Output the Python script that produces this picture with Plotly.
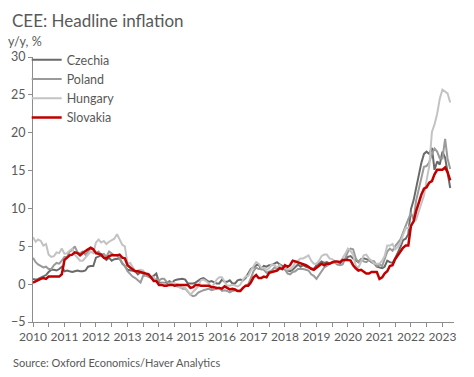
import pandas as pd
import plotly.graph_objects as go

dates = pd.date_range("2010-01-01", periods=160, freq="MS")

czechia = [
    0.7, 0.6, 0.7, 0.9, 1.0, 1.2, 1.6, 1.9, 1.9, 1.8, 2.0, 2.3,
    1.7, 1.8, 1.7, 1.6, 1.7, 1.8, 1.7, 1.7, 1.8, 2.3, 2.4, 2.4,
    3.5, 3.7, 3.8, 3.5, 3.2, 3.5, 3.1, 3.3, 3.4, 3.4, 2.7, 2.4,
    1.9, 1.8, 1.7, 1.7, 1.3, 1.6, 1.4, 1.3, 1.0, 0.9, 1.1, 1.4,
    0.2, 0.2, 0.2, 0.1, 0.4, 0.2, 0.5, 0.6, 0.7, 0.7, 0.6, 0.1,
    0.1, 0.1, 0.2, 0.5, 0.7, 0.8, 0.5, 0.3, 0.4, 0.2, 0.1, 0.1,
    0.6, 0.3, 0.3, 0.5, 0.1, 0.1, 0.5, 0.6, 0.5, 0.8, 1.5, 2.0,
    2.2, 2.5, 2.6, 2.0, 2.4, 2.3, 2.5, 2.5, 2.7, 2.9, 2.6, 2.4,
    2.2, 1.8, 1.7, 1.9, 2.2, 2.6, 2.3, 2.5, 2.3, 2.2, 2.0, 2.0,
    2.5, 2.7, 3.0, 2.8, 2.9, 2.7, 2.9, 2.9, 2.6, 2.7, 3.1, 3.2,
    3.6, 3.7, 3.4, 3.2, 2.9, 3.3, 3.4, 3.3, 3.2, 2.9, 2.7, 2.3,
    2.2, 2.1, 2.3, 3.1, 2.9, 2.8, 3.4, 4.1, 4.9, 5.8, 6.0, 6.6,
    9.9, 11.1, 12.7, 14.2, 16.0, 17.2, 17.5, 17.2, 18.0, 15.1, 16.2, 15.8,
    17.5, 16.7, 15.0, 12.7,
]

poland = [
    3.5, 2.9, 2.6, 2.4, 2.2, 2.3, 2.0, 2.0, 2.5, 2.8, 2.7, 3.1,
    3.6, 3.6, 4.3, 4.5, 5.0, 4.2, 4.1, 4.3, 3.9, 4.3, 4.8, 4.6,
    4.1, 4.3, 3.9, 4.0, 3.6, 4.3, 4.0, 3.8, 3.8, 3.4, 2.8, 2.4,
    1.7, 1.3, 1.0, 0.8, 0.5, 0.2, 1.1, 1.1, 1.0, 0.8, 0.6, 0.7,
    0.5, 0.7, 0.7, 0.3, 0.2, 0.3, -0.2, -0.3, -0.3, -0.6, -0.6, -1.0,
    -1.4, -1.6, -1.5, -1.1, -0.9, -0.8, -0.7, -0.6, -0.8, -0.7, -0.6, -0.5,
    -0.9, -0.8, -0.9, -1.1, -0.9, -0.8, -0.9, -0.8, -0.5, -0.2, 0.0, 0.8,
    1.7, 2.2, 2.0, 2.0, 1.9, 1.5, 1.7, 1.8, 2.2, 2.1, 2.5, 2.1,
    1.9, 1.4, 1.3, 1.6, 1.7, 2.0, 2.0, 2.0, 1.9, 1.8, 1.3, 1.1,
    0.7, 1.2, 1.7, 2.2, 2.4, 2.6, 2.9, 2.9, 2.6, 2.5, 2.6, 3.4,
    4.3, 4.7, 4.6, 3.4, 2.9, 3.3, 3.0, 2.9, 3.2, 3.1, 3.0, 2.4,
    2.6, 2.4, 3.2, 4.3, 4.7, 4.4, 5.0, 5.5, 5.9, 6.8, 7.8, 8.6,
    9.4, 8.5, 11.0, 12.4, 13.9, 15.5, 15.6, 16.1, 17.2, 17.9, 17.5, 16.6,
    16.6, 19.2, 16.6, 15.2,
]

hungary = [
    6.2, 5.6, 5.9, 5.7, 5.1, 5.3, 3.9, 3.6, 3.7, 4.2, 4.1, 4.7,
    4.0, 4.1, 4.4, 4.7, 3.9, 3.5, 3.1, 3.1, 3.5, 3.9, 4.3, 4.1,
    5.5, 5.9, 5.5, 5.7, 5.3, 5.6, 5.8, 6.0, 6.6, 6.0, 5.2, 5.0,
    2.7, 2.8, 2.2, 1.7, 1.8, 1.9, 1.8, 1.3, 1.4, 0.9, 0.9, 0.4,
    0.0, 0.1, 0.1, -0.1, -0.1, 0.2, 0.1, 0.0, -0.5, -0.4, -0.5, -0.9,
    -1.4, -1.0, -0.6, -0.3, 0.5, 0.6, 0.4, 0.1, -0.4, 0.0, 0.6, 0.9,
    0.9, 0.3, -0.2, -0.2, -0.1, -0.2, -0.3, -0.1, 0.6, 1.0, 1.1, 1.8,
    2.3, 2.9, 2.7, 2.2, 2.1, 1.9, 2.1, 2.6, 2.5, 2.2, 2.5, 2.1,
    2.1, 1.9, 2.0, 2.3, 2.8, 3.1, 3.4, 3.4, 3.6, 3.8, 3.1, 2.7,
    2.7, 3.1, 3.7, 3.9, 3.9, 3.4, 3.3, 3.1, 2.8, 2.9, 3.4, 4.0,
    4.7, 4.4, 3.9, 2.4, 2.2, 2.9, 3.8, 3.9, 3.4, 3.0, 2.7, 2.7,
    2.7, 3.1, 3.7, 5.1, 5.1, 5.3, 4.6, 4.9, 5.5, 6.5, 7.4, 7.4,
    7.9, 8.3, 8.5, 9.5, 10.7, 11.7, 13.7, 15.6, 20.1, 21.1, 22.5, 24.5,
    25.7, 25.4, 25.2, 24.0,
]

slovakia = [
    0.2, 0.4, 0.5, 0.7, 0.8, 0.7, 1.0, 1.0, 1.0, 1.0, 1.0, 1.3,
    3.2, 3.5, 3.8, 3.9, 4.2, 4.1, 3.8, 4.1, 4.4, 4.6, 4.8, 4.6,
    4.1, 4.0, 3.9, 3.5, 3.4, 3.7, 3.8, 3.8, 3.8, 3.9, 3.5, 3.4,
    2.5, 2.2, 1.9, 1.7, 1.7, 1.6, 1.6, 1.5, 1.3, 0.9, 0.4, 0.4,
    -0.1, -0.1, -0.2, -0.2, -0.1, -0.1, -0.2, -0.1, -0.1, -0.1, -0.1, -0.1,
    -0.5, -0.4, -0.1, -0.1, -0.2, -0.2, -0.2, -0.2, -0.4, -0.4, -0.5, -0.5,
    -0.6, -0.3, -0.5, -0.7, -0.6, -0.7, -0.9, -0.9, -0.5, -0.2, -0.2, 0.2,
    0.9, 1.2, 0.8, 0.8, 1.0, 0.9, 1.5, 1.6, 1.7, 1.8, 2.1, 2.0,
    2.5, 2.3, 2.5, 3.1, 3.0, 2.9, 2.7, 2.7, 2.5, 2.3, 2.0, 1.9,
    2.2, 2.4, 2.7, 2.5, 2.7, 2.7, 2.9, 3.0, 3.0, 2.9, 3.2, 3.2,
    3.2, 3.1, 2.5, 2.1, 1.8, 1.9, 1.6, 1.4, 1.4, 1.6, 1.6, 1.6,
    0.7, 0.9, 1.4, 1.7, 2.4, 2.5, 3.3, 3.8, 4.4, 4.8, 5.1, 5.1,
    7.7, 8.3, 9.6, 10.9, 11.8, 12.6, 12.8, 13.4, 13.6, 14.5, 15.1, 15.1,
    15.1, 15.4, 14.8, 13.7,
]

series = [
    ("Czechia", czechia, "#6a6a6a", 2.0),
    ("Poland", poland, "#9a9a9a", 2.0),
    ("Hungary", hungary, "#c3c3c3", 2.0),
    ("Slovakia", slovakia, "#c00000", 2.5),
]

year_ticks = pd.date_range("2010-01-01", "2023-01-01", freq="YS")
year_labels = [str(d.year) for d in year_ticks]

fig = go.Figure()
for name, vals, color, w in series:
    fig.add_trace(go.Scatter(x=dates, y=vals, mode="lines", name=name,
                             line=dict(color=color, width=w)))

font = "Lato, 'Noto Sans', sans-serif"
grey = "#595959"
axis_col = "#8c8c8c"

# page body has an 8px margin, so the figure is sized/placed to compensate
fig.update_layout(
    width=466, height=369,
    margin=dict(l=25, r=20, t=49, b=55, autoexpand=False),
    paper_bgcolor="white", plot_bgcolor="white",
    font=dict(family=font, color=grey, size=12),
    showlegend=True,
    legend=dict(x=-0.015, y=1.045, xanchor="left", yanchor="top",
                bgcolor="rgba(0,0,0,0)", font=dict(size=12.5, color=grey),
                itemwidth=30, tracegroupgap=0),
    xaxis=dict(
        range=["2010-01-01", "2023-05-15"],
        automargin=False, tickangle=0,
        tickmode="array", tickvals=year_ticks, ticktext=year_labels,
        ticks="outside", ticklen=4, tickcolor=axis_col,
        showline=True, linecolor=axis_col, linewidth=1,
        showgrid=False, zeroline=False,
        tickfont=dict(size=12, color=grey),
        minor=dict(dtick="M6", tick0="2010-01-01", ticks="outside",
                   ticklen=4, tickcolor=axis_col, showgrid=False),
    ),
    yaxis=dict(
        range=[-5, 30], dtick=5, tick0=0,
        automargin=False,
        ticks="outside", ticklen=4, tickcolor=axis_col,
        showline=True, linecolor=axis_col, linewidth=1,
        showgrid=False, zeroline=False,
        tickfont=dict(size=12.5, color=grey),
    ),
    annotations=[
        dict(text="CEE: Headline inflation", xref="paper", yref="paper",
             x=0, y=1.0, xanchor="left", yanchor="bottom",
             xshift=-23, yshift=24, showarrow=False,
             font=dict(size=17, color=grey, family=font)),
        dict(text="y/y, %", xref="paper", yref="paper",
             x=0, y=1.0, xanchor="left", yanchor="bottom",
             xshift=-27, yshift=6, showarrow=False,
             font=dict(size=12.5, color=grey, family=font)),
        dict(text="Source: Oxford Economics/Haver Analytics", xref="paper",
             yref="paper", x=0, y=0, xanchor="left", yanchor="top",
             xshift=-22, yshift=-32, showarrow=False,
             font=dict(size=11, color=grey, family=font)),
    ],
)

fig.write_html("out.html")
